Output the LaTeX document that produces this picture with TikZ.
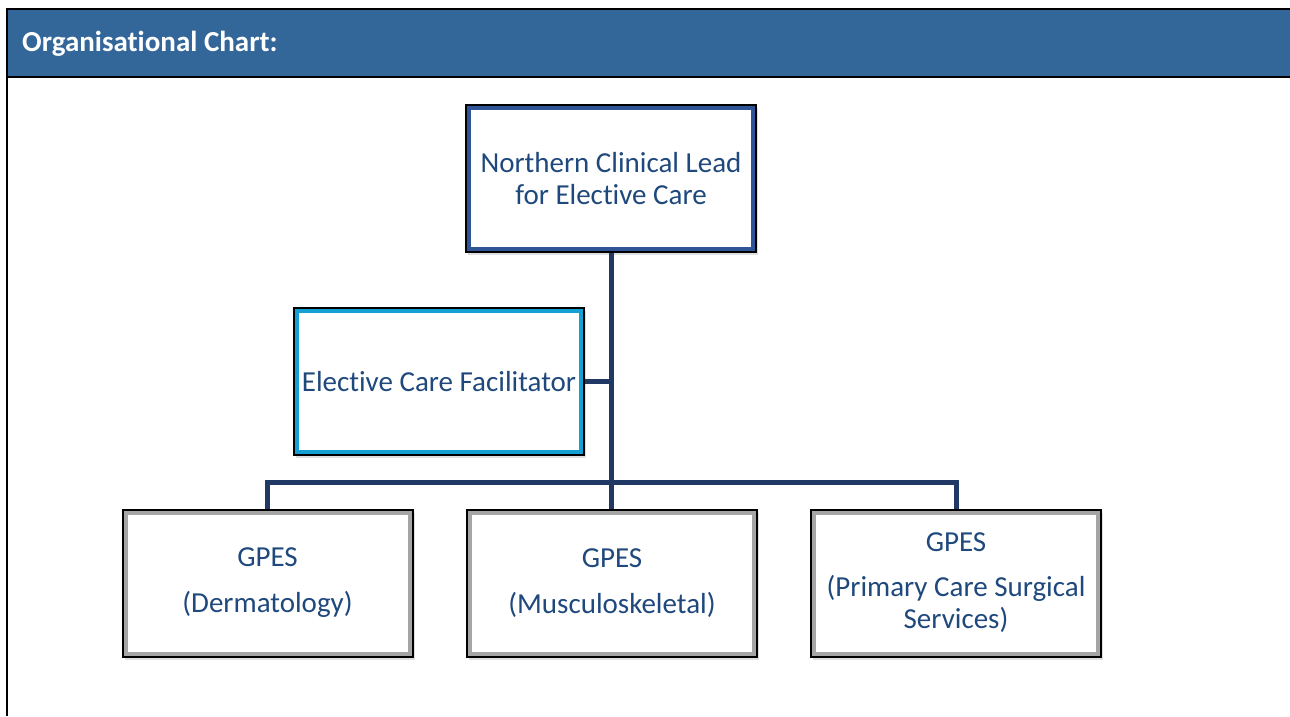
\documentclass[tikz,border=0pt]{standalone}
\usepackage{fontspec}
\setmainfont[Ligatures=NoCommon, RawFeature={-liga;-dlig;-clig}]{Carlito}
\usetikzlibrary{shadows}
\definecolor{hdr}{RGB}{51,102,153}
\definecolor{txt}{RGB}{31,73,125}
\definecolor{conn}{RGB}{31,56,100}
\definecolor{bandnavy}{RGB}{47,85,151}
\definecolor{bandcyan}{RGB}{20,160,210}
\definecolor{bandgray}{RGB}{165,165,165}
\tikzset{
  orgbox/.style={draw=black, line width=2pt, fill=white, minimum width=290pt, minimum height=147pt,
    inner sep=2pt, align=center, text=txt, font=\fontsize{29pt}{32pt}\selectfont,
    drop shadow={shadow xshift=2pt, shadow yshift=-3pt, opacity=0.25},
    path picture={\draw[#1, line width=10pt] (path picture bounding box.south west) rectangle (path picture bounding box.north east);}},
  link/.style={draw=conn, line width=5pt},
  frameline/.style={draw=black, line width=2.5pt}
}
\begin{document}
\begin{tikzpicture}[x=1pt, y=-1pt]
\useasboundingbox (0,0) rectangle (1290,716);
\fill[white] (0,0) rectangle (1290,716);
% header
\fill[hdr] (7,9) rectangle (1290,77);
\draw[frameline] (1290,9) -- (7,9) -- (7,716);
\draw[frameline] (7,77) -- (1290,77);
\node[anchor=west, text=white, font=\bfseries\fontsize{29pt}{32pt}\selectfont, inner sep=0pt] (title) at (22,44) {Organisational Chart:};
% boxes
\node[orgbox=bandnavy] (lead) at (611,178.5) {Northern Clinical Lead\\for Elective Care};
\node[orgbox=bandcyan] (fac) at (439,381.5) {Elective Care Facilitator};
\node[orgbox=bandgray] (derm) at (267.5,583) {GPES\\[14pt](Dermatology)};
\node[orgbox=bandgray] (musc) at (612,583) {GPES\\[14pt](Musculoskeletal)};
\node[orgbox=bandgray] (surg) at (956,583) {GPES\\[13pt](Primary Care Surgical\\Services)};
\coordinate (bar) at (611,482.5);
% connectors
\draw[link] (lead.south) -- (lead.south |- musc.north);
\draw[link, line join=miter] (derm.north) |- (bar) -| (surg.north);
\draw[link] (fac.east) -- (fac.east -| lead.south);
\end{tikzpicture}
\end{document}
